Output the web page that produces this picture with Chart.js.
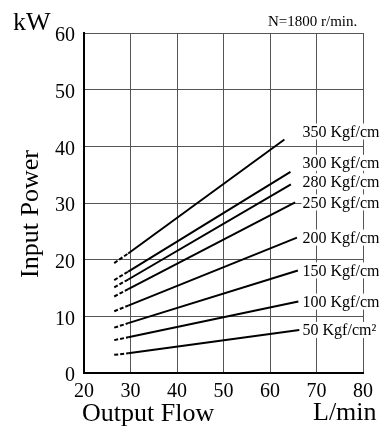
<!DOCTYPE html>
<html>
<head>
<meta charset="utf-8">
<script src="https://cdn.jsdelivr.net/npm/chart.js@4.4.1/dist/chart.umd.min.js"></script>
<style>
  html, body { margin: 0; padding: 0; background: #fff; }
  #wrap { width: 380px; height: 430px; }
</style>
</head>
<body>
<div id="wrap"><canvas id="chart" width="380" height="430"></canvas></div>
<script>
// ======= Datos =======
const presiones = ["350", "300", "280", "250", "200", "150", "100", "50"];

// [caudal L/min, potencia kW] : inicio punteado, fin punteado, fin de línea
const kw350 = [[26.5, 19.4], [29.5, 21.1], [63.1, 41.2]];
const kw300 = [[26.5, 16.4], [29.5, 17.9], [64.4, 35.5]];
const kw280 = [[26.5, 15.1], [29.5, 16.5], [64.5, 33.3]];
const kw250 = [[26.5, 13.5], [29.5, 14.8], [65.4, 30.1]];
const kw200 = [[26.5, 10.9], [29.5, 11.9], [65.8, 23.9]];
const kw150 = [[26.5, 8.0], [29.5, 8.8], [66.0, 18.1]];
const kw100 = [[26.5, 5.8], [29.5, 6.3], [66.1, 12.6]];
const kw50 = [[26.5, 3.2], [29.5, 3.5], [66.3, 7.6]];

const series = [kw350, kw300, kw280, kw250, kw200, kw150, kw100, kw50];

const flowTicks = [20, 30, 40, 50, 60, 70, 80];
const powerTicks = [0, 10, 20, 30, 40, 50, 60];

const SERIF = "'Liberation Serif', 'DejaVu Serif', serif";

// desplazamiento vertical de las etiquetas (px)
const labelShift = [-8, -9, -3, 0, 0, 0, 0, 0];
const labelFlow = 67;

// ======= Plugin etiquetas y títulos =======
const etiquetas = {
  id: "etiquetas",
  afterDatasetsDraw(chart) {
    const c = chart.ctx;
    const xs = chart.scales.x;
    c.save();
    c.font = "16px " + SERIF;
    c.textBaseline = "middle";
    chart.data.datasets.forEach((ds, i) => {
      const meta = chart.getDatasetMeta(i);
      const last = meta.data[meta.data.length - 1];
      const x = xs.getPixelForValue(labelFlow);
      const y = last.y + labelShift[i];
      const txt = presiones[i] + " Kgf/cm²";
      const w = c.measureText(txt).width;
      c.fillStyle = "#fff";
      c.fillRect(x - 1, y - 8, w + 2, 16);
      c.fillStyle = "#000";
      c.fillText(txt, x, y + 1);
    });
    c.restore();
  },
  afterDraw(chart) {
    const c = chart.ctx;
    c.save();
    c.fillStyle = "#000";
    c.textBaseline = "alphabetic";
    c.font = "26px " + SERIF;
    c.fillText("kW", 13, 30);
    c.fillText("Output Flow", 82, 421);
    c.fillText("L/min", 313, 420);
    c.font = "15px " + SERIF;
    c.fillText("N=1800 r/min.", 268, 26);
    c.translate(38, 214);
    c.rotate(-Math.PI / 2);
    c.font = "26px " + SERIF;
    c.textAlign = "center";
    c.fillText("Input Power", 0, 0);
    c.restore();
  }
};

// ======= Gráfico =======
const ctx = document.getElementById("chart").getContext("2d");

new Chart(ctx, {
  type: "line",
  data: {
    datasets: series.map((pts, i) => ({
      label: presiones[i],
      data: pts.map(p => ({ x: p[0], y: p[1] })),
      borderColor: "#000",
      borderWidth: 2,
      pointRadius: 0,
      fill: false,
      tension: 0,
      segment: {
        borderDash: s => s.p0DataIndex === 0 ? [4, 2] : undefined
      }
    }))
  },
  options: {
    responsive: false,
    animation: false,
    layout: { padding: { top: 33, right: 14, left: 0, bottom: 0 } },
    plugins: { legend: { display: false }, tooltip: { enabled: false } },
    scales: {
      x: {
        type: "linear",
        min: 20,
        max: 80,
        afterBuildTicks: s => { s.ticks = flowTicks.map(v => ({ value: v })); },
        afterFit: s => { s.height = 57; },
        ticks: { color: "#000", font: { family: SERIF, size: 20 }, padding: 7 },
        grid: { color: "#555", lineWidth: 1, drawTicks: false },
        border: { color: "#000", width: 2 }
      },
      y: {
        type: "linear",
        min: 0,
        max: 60,
        afterBuildTicks: s => { s.ticks = powerTicks.map(v => ({ value: v })); },
        afterFit: s => { s.width = 84; },
        ticks: { color: "#000", font: { family: SERIF, size: 20 }, padding: 9, labelOffset: 3 },
        grid: { color: "#555", lineWidth: 1, drawTicks: false },
        border: { color: "#000", width: 2 }
      }
    }
  },
  plugins: [etiquetas]
});
</script>
</body>
</html>
